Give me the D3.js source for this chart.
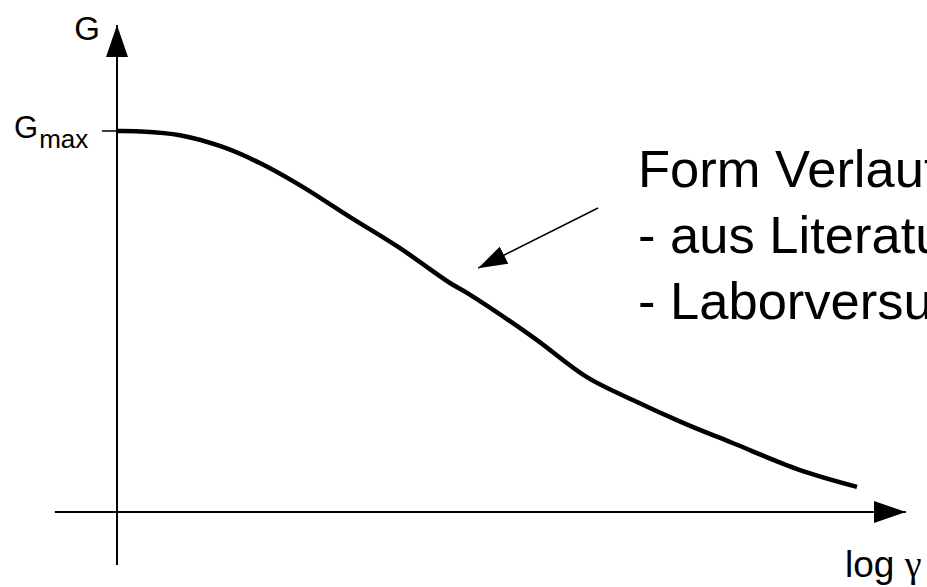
<!DOCTYPE html>
<html>
<head>
<meta charset="utf-8">
<script src="https://cdn.jsdelivr.net/npm/d3@7"></script>
<style>
  body { margin: 0; background: #fff; overflow: hidden; }
  text { font-family: "Liberation Sans", Arial, sans-serif; fill: #000; }
</style>
</head>
<body>
<svg id="chart" width="927" height="587"></svg>
<script>
// curve G over log gamma (relative units, Gmax = 100)
const logGamma = [0, 3.1, 8.5, 14, 19.3, 24.7, 31.5, 38.2, 45.0, 47.3, 56.2, 63.5, 69.7, 76.5, 83.2, 92.3, 100];
const gValues  = [100, 99.9, 98.9, 96.0, 91.6, 85.8, 77.4, 69.3, 60.1, 57.5, 45.9, 35.4, 29.4, 23.4, 18.1, 11.0, 6.6];

// axis extents (data units), arrows at the ends
const xAxisExtent = [-8.4, 106.6];
const yAxisExtent = [-13.9, 127.8];

// annotation: arrow from the text to the curve, then the text lines
const noteFrom = [65.0, 79.8];
const noteTo = [48.8, 64.0];
const noteLines = ["Form Verlauf", "- aus Literatur", "- Laborversuche"];

const svg = d3.select("#chart");

const x = d3.scaleLinear().domain([0, 100]).range([117, 857]);
const y = d3.scaleLinear().domain([0, 100]).range([512, 131]);

// arrow markers
const defs = svg.append("defs");
defs.append("marker")
   .attr("id", "axisHead")
   .attr("viewBox", "0 0 32 22")
   .attr("refX", 32)
   .attr("refY", 11)
   .attr("markerWidth", 32)
   .attr("markerHeight", 22)
   .attr("markerUnits", "userSpaceOnUse")
   .attr("orient", "auto")
   .append("path")
   .attr("d", "M0,0 L32,11 L0,22 Z")
   .attr("fill", "#000");

defs.append("marker")
   .attr("id", "noteHead")
   .attr("viewBox", "0 0 29 19")
   .attr("refX", 29)
   .attr("refY", 9.5)
   .attr("markerWidth", 29)
   .attr("markerHeight", 19)
   .attr("markerUnits", "userSpaceOnUse")
   .attr("orient", "auto")
   .append("path")
   .attr("d", "M0,0 L29,9.5 L0,19 Z")
   .attr("fill", "#000");

// x axis
svg.append("line")
   .attr("x1", x(xAxisExtent[0]))
   .attr("x2", x(xAxisExtent[1]))
   .attr("y1", y(0))
   .attr("y2", y(0))
   .attr("stroke", "#000")
   .attr("stroke-width", 2)
   .attr("marker-end", "url(#axisHead)");

// y axis
svg.append("line")
   .attr("x1", x(0))
   .attr("x2", x(0))
   .attr("y1", y(yAxisExtent[0]))
   .attr("y2", y(yAxisExtent[1]))
   .attr("stroke", "#000")
   .attr("stroke-width", 2)
   .attr("marker-end", "url(#axisHead)");

// Gmax tick
svg.append("line")
   .attr("x1", x(0) - 15)
   .attr("x2", x(0))
   .attr("y1", y(100))
   .attr("y2", y(100))
   .attr("stroke", "#000")
   .attr("stroke-width", 1.5);

// the curve
const line = d3.line()
   .x((d, i) => x(logGamma[i]))
   .y(d => y(d))
   .curve(d3.curveCatmullRom.alpha(0.5));

svg.append("path")
   .datum(gValues)
   .attr("d", line)
   .attr("fill", "none")
   .attr("stroke", "#000")
   .attr("stroke-width", 4.5);

// axis labels
svg.append("text")
   .attr("x", x(0) - 17)
   .attr("y", y(yAxisExtent[1]) + 15)
   .attr("text-anchor", "end")
   .style("font-size", "33px")
   .text("G");

const gmax = svg.append("text")
   .attr("x", 14)
   .attr("y", y(100) + 7)
   .style("font-size", "31px");
gmax.append("tspan").text("G");
gmax.append("tspan")
   .attr("dx", 1)
   .attr("dy", 10)
   .style("font-size", "26px")
   .text("max");

const xlab = svg.append("text")
   .attr("x", 845)
   .attr("y", y(0) + 65)
   .style("font-size", "37px");
xlab.append("tspan").text("log ");
xlab.append("tspan")
   .style("font-family", "'Liberation Serif', serif")
   .style("font-size", "38px")
   .text("γ");

// annotation arrow pointing at the curve
svg.append("line")
   .attr("x1", x(noteFrom[0]))
   .attr("y1", y(noteFrom[1]))
   .attr("x2", x(noteTo[0]))
   .attr("y2", y(noteTo[1]))
   .attr("stroke", "#000")
   .attr("stroke-width", 1.5)
   .attr("marker-end", "url(#noteHead)");

// text runs past the right edge, as in the original slide
svg.selectAll(".note")
   .data(noteLines)
   .enter()
   .append("text")
   .attr("class", "note")
   .attr("x", x(noteFrom[0]) + 40)
   .attr("y", (d, i) => y(noteFrom[1]) - 21 + i * 66)
   .style("font-size", "52.5px")
   .text(d => d);
</script>
</body>
</html>
